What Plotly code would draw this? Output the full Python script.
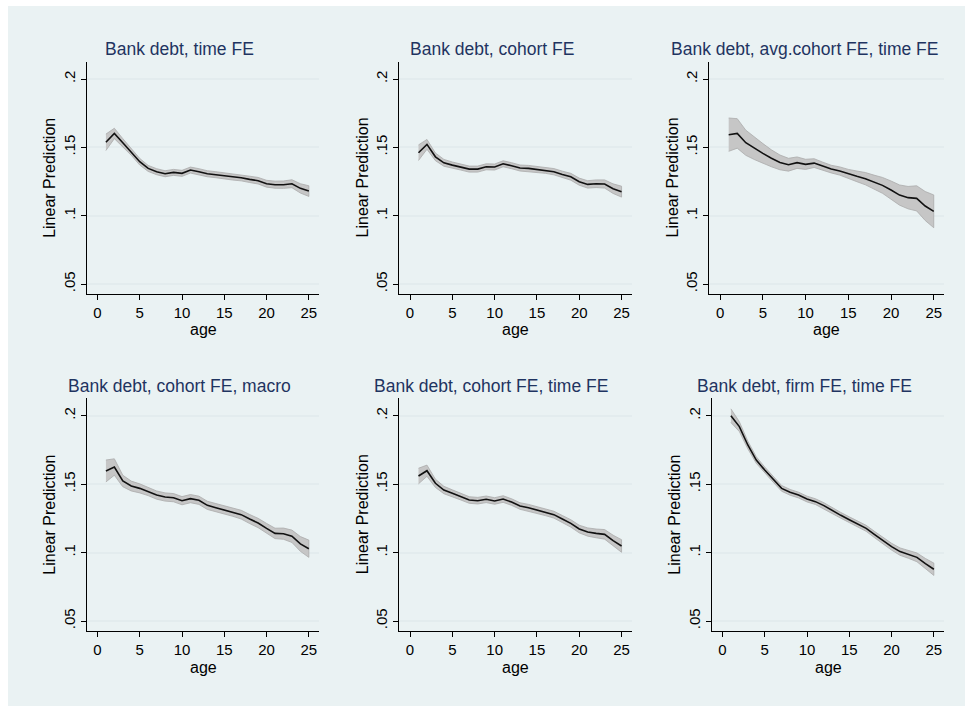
import plotly.graph_objects as go

W, H = 965, 706

age = list(range(1, 26))

titles = [
    "Bank debt, time FE",
    "Bank debt, cohort FE",
    "Bank debt, avg.cohort FE, time FE",
    "Bank debt, cohort FE, macro",
    "Bank debt, cohort FE, time FE",
    "Bank debt, firm FE, time FE",
]

pred_time_fe = [0.1537, 0.1602, 0.1534, 0.1468, 0.1395, 0.1346, 0.1322, 0.1307, 0.1317, 0.1310,
                0.1334, 0.1322, 0.1307, 0.1300, 0.1293, 0.1283, 0.1278, 0.1266, 0.1256, 0.1234,
                0.1227, 0.1227, 0.1234, 0.1200, 0.1180]
ci_time_fe = [0.0060, 0.0038, 0.0030, 0.0026, 0.0024, 0.0022, 0.0022, 0.0022, 0.0022, 0.0022,
              0.0022, 0.0022, 0.0022, 0.0022, 0.0022, 0.0022, 0.0023, 0.0023, 0.0024, 0.0025,
              0.0026, 0.0027, 0.0029, 0.0034, 0.0039]

pred_cohort_fe = [0.1461, 0.1522, 0.1431, 0.1387, 0.1370, 0.1356, 0.1341, 0.1341, 0.1358, 0.1356,
                  0.1380, 0.1366, 0.1349, 0.1346, 0.1337, 0.1332, 0.1322, 0.1302, 0.1285, 0.1249,
                  0.1229, 0.1234, 0.1232, 0.1198, 0.1176]
ci_cohort_fe = [0.0057, 0.0036, 0.0028, 0.0025, 0.0023, 0.0022, 0.0022, 0.0022, 0.0022, 0.0022,
                0.0022, 0.0022, 0.0022, 0.0022, 0.0022, 0.0022, 0.0023, 0.0024, 0.0025, 0.0026,
                0.0027, 0.0028, 0.0030, 0.0035, 0.0040]

pred_avgcohort_time = [0.1593, 0.1602, 0.1534, 0.1493, 0.1456, 0.1420, 0.1390, 0.1373, 0.1388, 0.1376,
                       0.1385, 0.1363, 0.1341, 0.1327, 0.1305, 0.1288, 0.1271, 0.1246, 0.1222, 0.1188,
                       0.1151, 0.1132, 0.1127, 0.1071, 0.1032]
ci_avgcohort_time = [0.0122, 0.0108, 0.0092, 0.0082, 0.0072, 0.0062, 0.0054, 0.0047, 0.0042, 0.0037,
                     0.0032, 0.0029, 0.0028, 0.0030, 0.0034, 0.0039, 0.0045, 0.0051, 0.0058, 0.0066,
                     0.0074, 0.0082, 0.0092, 0.0106, 0.0120]

pred_cohort_macro = [0.1596, 0.1625, 0.1523, 0.1486, 0.1469, 0.1447, 0.1420, 0.1406, 0.1401, 0.1379,
                     0.1394, 0.1382, 0.1345, 0.1328, 0.1311, 0.1296, 0.1277, 0.1245, 0.1216, 0.1177,
                     0.1140, 0.1138, 0.1119, 0.1063, 0.1028]
ci_cohort_macro = [0.0080, 0.0060, 0.0042, 0.0036, 0.0033, 0.0031, 0.0030, 0.0030, 0.0030, 0.0030,
                   0.0030, 0.0030, 0.0030, 0.0030, 0.0030, 0.0031, 0.0032, 0.0033, 0.0034, 0.0036,
                   0.0038, 0.0041, 0.0045, 0.0054, 0.0063]

pred_cohort_time = [0.1559, 0.1598, 0.1506, 0.1457, 0.1433, 0.1408, 0.1384, 0.1379, 0.1389, 0.1377,
                    0.1391, 0.1369, 0.1340, 0.1328, 0.1311, 0.1294, 0.1277, 0.1245, 0.1213, 0.1172,
                    0.1150, 0.1140, 0.1133, 0.1087, 0.1048]
ci_cohort_time = [0.0057, 0.0041, 0.0030, 0.0027, 0.0025, 0.0024, 0.0024, 0.0024, 0.0024, 0.0024,
                  0.0024, 0.0024, 0.0024, 0.0024, 0.0024, 0.0024, 0.0025, 0.0026, 0.0027, 0.0028,
                  0.0030, 0.0032, 0.0035, 0.0040, 0.0046]

pred_firm_time = [0.2000, 0.1920, 0.1786, 0.1676, 0.1603, 0.1535, 0.1469, 0.1440, 0.1420, 0.1391,
                  0.1372, 0.1343, 0.1306, 0.1272, 0.1240, 0.1211, 0.1177, 0.1131, 0.1084, 0.1043,
                  0.1007, 0.0987, 0.0965, 0.0919, 0.0878]
ci_firm_time = [0.0050, 0.0036, 0.0028, 0.0024, 0.0022, 0.0021, 0.0021, 0.0021, 0.0021, 0.0021,
                0.0021, 0.0021, 0.0021, 0.0021, 0.0021, 0.0021, 0.0022, 0.0023, 0.0024, 0.0025,
                0.0027, 0.0029, 0.0032, 0.0038, 0.0045]

preds = [pred_time_fe, pred_cohort_fe, pred_avgcohort_time,
         pred_cohort_macro, pred_cohort_time, pred_firm_time]
cis = [ci_time_fe, ci_cohort_fe, ci_avgcohort_time,
       ci_cohort_macro, ci_cohort_time, ci_firm_time]

x_ticks = [0, 5, 10, 15, 20, 25]
y_ticks = [0.05, 0.1, 0.15, 0.2]
y_tick_text = [".05", ".1", ".15", ".2"]

# panel pixel boxes: (left, right, top, bottom)
boxes = [
    (86.7, 319.0, 61.7, 294.0),
    (399.3, 631.7, 61.7, 294.0),
    (709.3, 944.0, 61.7, 294.0),
    (86.7, 319.0, 398.3, 631.0),
    (399.3, 631.7, 398.3, 631.0),
    (711.7, 944.0, 398.3, 631.0),
]
title_centers = [(179.5, 49), (492, 49), (804, 49), (179.7, 386), (491.3, 386), (804, 386)]

def px(x):
    return x / W

def py(y):
    return 1 - y / H

FONT = "Liberation Sans, Arial, Helvetica, sans-serif"
BG = "#EAF2F3"
TITLE_COLOR = "#1F3461"

fig = go.Figure()
annotations = []
layout = {}

for i in range(6):
    n = i + 1
    xa = "x" if n == 1 else f"x{n}"
    ya = "y" if n == 1 else f"y{n}"
    pred = preds[i]
    ci = cis[i]
    upper = [p + c for p, c in zip(pred, ci)]
    lower = [p - c for p, c in zip(pred, ci)]
    fig.add_trace(go.Scatter(
        x=age + age[::-1], y=upper + lower[::-1],
        fill="toself", fillcolor="#C6C6C6",
        line=dict(color="#ABABAB", width=0.8),
        mode="lines", hoverinfo="skip", showlegend=False,
        xaxis=xa, yaxis=ya))
    fig.add_trace(go.Scatter(
        x=age, y=pred, mode="lines",
        line=dict(color="#111111", width=1.6),
        showlegend=False, xaxis=xa, yaxis=ya))

    l, r, t, b = boxes[i]
    xkey = "xaxis" if n == 1 else f"xaxis{n}"
    ykey = "yaxis" if n == 1 else f"yaxis{n}"
    layout[xkey] = dict(
        domain=[px(l), px(r)], anchor=ya, range=[-1.27, 26.2],
        tickmode="array", tickvals=x_ticks, ticks="outside", ticklen=5,
        tickwidth=1.2, tickcolor="black", showline=True, linecolor="black",
        linewidth=1.3, showgrid=False, zeroline=False,
        tickfont=dict(family=FONT, size=15, color="black"), fixedrange=True)
    layout[ykey] = dict(
        domain=[py(b), py(t)], anchor=xa, range=[0.0427, 0.2127],
        tickmode="array", tickvals=y_ticks, ticktext=y_tick_text,
        ticks="outside", ticklen=5, tickwidth=1.2, tickcolor="black",
        showline=True, linecolor="black", linewidth=1.3,
        showgrid=True, gridcolor="#E3ECEE", gridwidth=1.5, zeroline=False,
        tickangle=-90, tickfont=dict(family=FONT, size=15, color="black"),
        fixedrange=True)

    tx, ty = title_centers[i]
    annotations.append(dict(
        text=titles[i], x=px(tx), y=py(ty), xref="paper", yref="paper",
        xanchor="center", yanchor="middle", showarrow=False,
        font=dict(family=FONT, size=17.5, color=TITLE_COLOR)))
    annotations.append(dict(
        text="Linear Prediction", x=px(l - 36.7), y=py((t + b) / 2),
        xref="paper", yref="paper", xanchor="center", yanchor="middle",
        textangle=-90, showarrow=False,
        font=dict(family=FONT, size=16, color="black")))
    annotations.append(dict(
        text="age", x=12.5, y=py(b + 36), xref=xa, yref="paper",
        xanchor="center", yanchor="middle", showarrow=False,
        font=dict(family=FONT, size=16, color="black")))

fig.update_layout(
    width=W, height=H, autosize=False,
    margin=dict(l=0, r=0, t=0, b=0),
    paper_bgcolor="white", plot_bgcolor="white",
    showlegend=False, annotations=annotations,
    shapes=[dict(type="rect", xref="paper", yref="paper",
                 x0=px(8), x1=1, y0=0, y1=py(6),
                 fillcolor=BG, line=dict(width=0), layer="below")],
    **layout)

fig.write_html("out.html")
